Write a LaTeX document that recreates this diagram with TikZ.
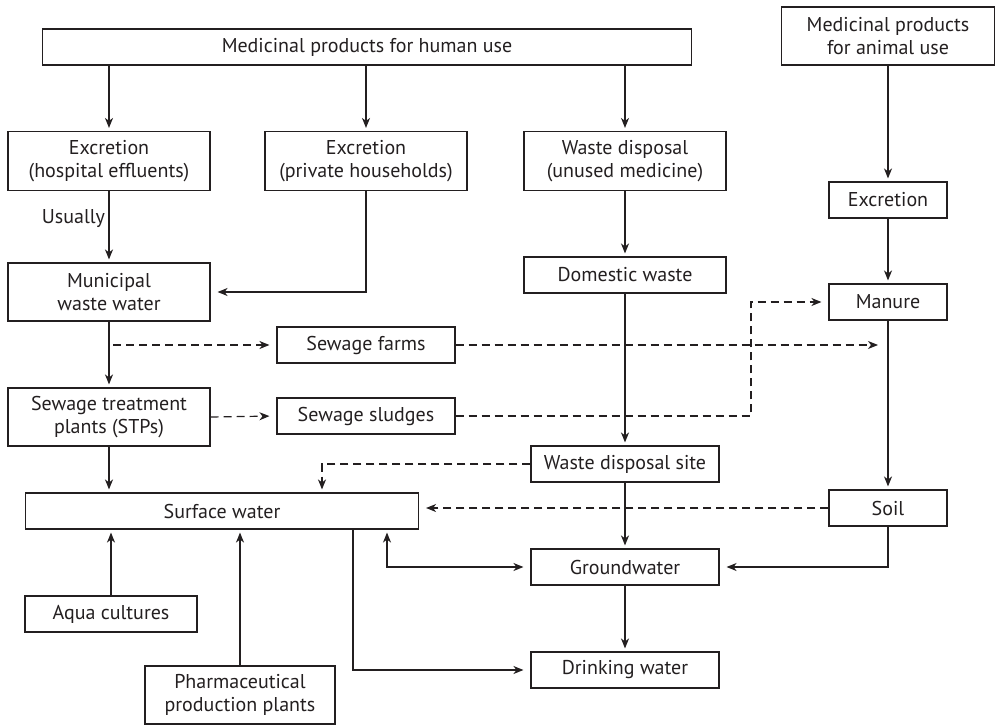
\documentclass[tikz,border=0pt]{standalone}
\usepackage{fontspec}
\setmainfont{PT Sans}
\usetikzlibrary{arrows.meta}
\definecolor{ink}{RGB}{35,31,32}

\begin{document}
\begin{tikzpicture}[
    x=1pt, y=-1pt,
    box/.style={rectangle, draw=ink, line width=1.1pt, inner sep=0pt, minimum height=36pt, align=center, text=ink, font=\fontsize{20}{23}\selectfont},
    label/.style={text=ink, font=\fontsize{20}{23}\selectfont},
    arrow/.style={-{Stealth[length=10pt, width=8pt, inset=3pt]}, line width=1.2pt, draw=ink, shorten >=3pt},
    darrow/.style={arrow, dash pattern=on 8pt off 5pt},
    hgap/.style={shorten >=7pt},
    both/.style={{Stealth[length=10pt, width=8pt, inset=3pt]}-{Stealth[length=10pt, width=8pt, inset=3pt]}, line width=1.2pt, draw=ink, shorten >=7pt, shorten <=7pt}
]
    \useasboundingbox (0,0) rectangle (996,725);

    % sources
    \node[box, minimum width=649pt] (human) at (367,47) {Medicinal products for human use};
    \node[box, minimum width=213pt, minimum height=58pt] (animal) at (888,36) {Medicinal products\\for animal use};

    % first stage
    \node[box, minimum width=202pt, minimum height=59pt] (hosp) at (109,161) {Excretion\\(hospital effluents)};
    \node[box, minimum width=202pt, minimum height=59pt] (priv) at (366,161) {Excretion\\(private households)};
    \node[box, minimum width=202pt, minimum height=59pt] (unused) at (625,161) {Waste disposal\\(unused medicine)};
    \node[box, minimum width=118pt] (aexcr) at (888,200) {Excretion};

    % waste streams
    \node[box, minimum width=202pt, minimum height=58pt] (munic) at (109,292) {Municipal\\waste water};
    \node[box, minimum width=202pt] (domestic) at (625,275) {Domestic waste};
    \node[box, minimum width=118pt] (manure) at (888,302) {Manure};
    \node[box, minimum width=178pt] (farms) at (366,345) {Sewage farms};
    \node[box, minimum width=202pt, minimum height=58pt] (stp) at (109,417) {Sewage treatment\\plants (STPs)};
    \node[box, minimum width=178pt] (sludge) at (366,416) {Sewage sludges};
    \node[box, minimum width=188pt] (site) at (625,464) {Waste disposal site};

    % environment
    \node[box, minimum width=393pt] (surface) at (222,511) {Surface water};
    \node[box, minimum width=118pt] (soil) at (888,508) {Soil};
    \node[box, minimum width=188pt] (ground) at (625,567) {Groundwater};
    \node[box, minimum width=172pt] (aqua) at (111,614) {Aqua cultures};
    \node[box, minimum width=190pt, minimum height=58pt] (pharma) at (240,695) {Pharmaceutical\\production plants};
    \node[box, minimum width=188pt] (drink) at (625,670) {Drinking water};

    % solid flows
    \draw[arrow] (human.south -| hosp.north) -- (hosp.north);
    \draw[arrow] (human.south -| priv.north) -- (priv.north);
    \draw[arrow] (human.south -| unused.north) -- (unused.north);
    \draw[arrow] (animal.south) -- (aexcr.north);
    \draw[arrow] (hosp.south) -- node[label, left, pos=0.38] {Usually} (munic.north);
    \draw[arrow, hgap] (priv.south) |- (munic.east);
    \draw[arrow] (unused.south) -- (domestic.north);
    \draw[arrow] (aexcr.south) -- (manure.north);
    \draw[arrow] (munic.south) -- (stp.north);
    \draw[arrow] (domestic.south) -- (site.north);
    \draw[arrow] (stp.south) -- (stp.south |- surface.north);
    \draw[arrow] (manure.south) -- (soil.north);
    \draw[arrow] (site.south) -- (ground.north);
    \draw[arrow, hgap] (soil.south) |- (ground.east);
    \draw[arrow] (ground.south) -- (drink.north);
    \draw[arrow] (aqua.north) -- (aqua.north |- surface.south);
    \draw[arrow] (pharma.north) -- (pharma.north |- surface.south);
    \draw[both, shorten <=3pt] ([xshift=165pt]surface.south) |- (ground.west);
    \draw[arrow, hgap] ([xshift=131pt]surface.south) |- (drink.west);

    % dashed flows
    \draw[darrow, hgap] ([xshift=4pt]munic.south |- farms.west) -- (farms.west);
    \draw[darrow, shorten >=10pt] (farms.east) -- (farms.east -| manure.south);
    \draw[darrow, hgap] (stp.east) -- (sludge.west);
    \draw[darrow, hgap] (sludge.east) -- (751,416) |- (manure.west);
    \draw[darrow] (site.west) -| ([xshift=100pt]surface.north);
    \draw[darrow, hgap] (soil.west) -- (soil.west -| surface.east);
\end{tikzpicture}
\end{document}
